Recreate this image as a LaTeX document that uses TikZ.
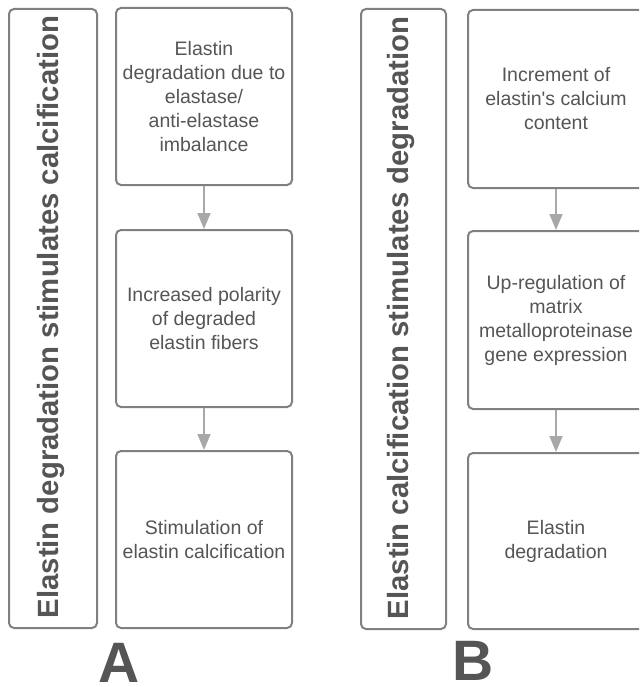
\documentclass[tikz,border=0pt]{standalone}
\usepackage{fontspec}
\setmainfont{Liberation Sans}
\usetikzlibrary{arrows.meta}
\definecolor{edgegray}{HTML}{808080}
\definecolor{txtgray}{HTML}{555555}
\definecolor{arrgray}{HTML}{A8A8AA}
\begin{document}
\begin{tikzpicture}[x=1pt,y=-1pt,
  stepbox/.style={draw=edgegray,line width=2pt,rounded corners=5pt,anchor=north west,
    minimum width=176pt,text=txtgray,align=center,inner sep=0pt,
    font=\fontsize{19.5}{24}\selectfont},
  barbox/.style={draw=edgegray,line width=2pt,rounded corners=5pt,anchor=north west,inner sep=0pt},
  bartext/.style={rotate=90,anchor=base,text=txtgray,inner sep=0pt,
    font=\bfseries\fontsize{29.3}{30}\selectfont},
  letter/.style={anchor=base,text=txtgray,inner sep=0pt,font=\bfseries\fontsize{57}{57}\selectfont},
  flow/.style={draw=arrgray,line width=1.6pt,-{Triangle[length=16pt,width=13pt]},arrgray}]
\useasboundingbox (0,0) rectangle (639,687);
\clip (0,0) rectangle (639,687);
% panel A
\node[barbox,minimum width=88pt,minimum height=619pt] (barA) at (8,8) {};
\node[bartext] (titleA) at (58,317) {Elastin degradation stimulates calcification};
\node[stepbox,minimum height=177pt] (a1) at (115,7) {Elastin\\degradation due to\\elastase/\\anti-elastase\\imbalance};
\node[stepbox,minimum height=177pt] (a2) at (115,229) {Increased polarity\\of degraded\\elastin fibers};
\node[stepbox,minimum height=177pt] (a3) at (115,450) {Stimulation of\\elastin calcification};
\draw[flow] (a1.south) -- (a2.north);
\draw[flow] (a2.south) -- (a3.north);
\node[letter] (labA) at (119,682) {A};
% panel B
\node[barbox,minimum width=85pt,minimum height=620pt] (barB) at (360,8) {};
\node[bartext] (titleB) at (408.5,318) {Elastin calcification stimulates degradation};
\node[stepbox,minimum height=178pt] (b1) at (467,9) {Increment of\\elastin\textquotesingle s calcium\\content};
\node[stepbox,minimum height=178pt] (b2) at (467,230) {Up-regulation of\\matrix\\metalloproteinase\\gene expression};
\node[stepbox,minimum height=176pt] (b3) at (467,452) {Elastin\\degradation};
\draw[flow] (b1.south) -- (b2.north);
\draw[flow] (b2.south) -- (b3.north);
\node[letter] (labB) at (473.5,680) {B};
\end{tikzpicture}
\end{document}
